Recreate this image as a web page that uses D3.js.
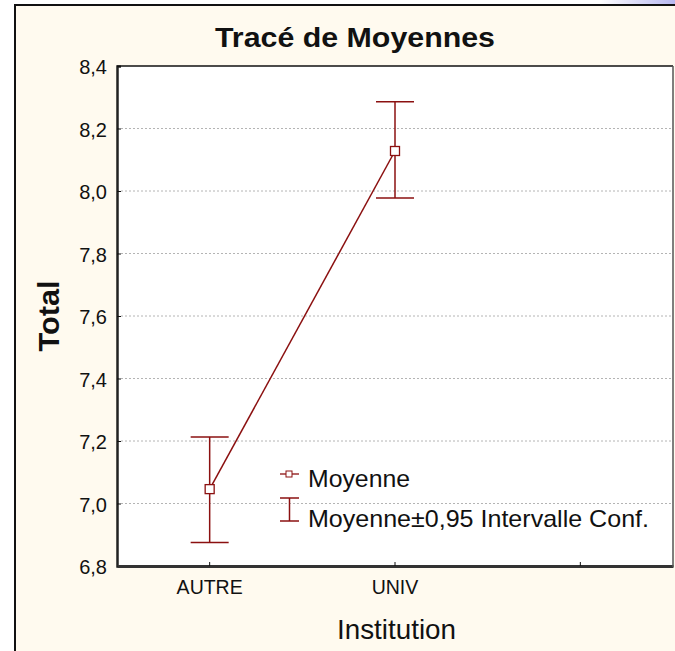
<!DOCTYPE html>
<html>
<head>
<meta charset="utf-8">
<script src="https://cdn.jsdelivr.net/npm/d3@7"></script>
<style>
  body { margin: 0; background: #fff; }
  svg { display: block; font-family: "Liberation Sans", Arial, sans-serif; }
</style>
</head>
<body>
<script>
// data
const categories = ["AUTRE", "UNIV", ""]
const means = [7.046, 8.128]
const upper = [7.213, 8.286]
const lower = [6.875, 7.978]
const yTicks = [6.8, 7.0, 7.2, 7.4, 7.6, 7.8, 8.0, 8.2, 8.4]

const W = 675, H = 651
const plot = {left: 117, top: 66, right: 673, bottom: 566}
const red = "#8b1010"

const svg = d3.select("body").append("svg")
    .attr("width", W)
    .attr("height", H)

// window bit at top right
const grad = svg.append("defs").append("linearGradient")
    .attr("id", "win").attr("x1", 0).attr("x2", 1)
grad.append("stop").attr("offset", 0).attr("stop-color", "#ffffff")
grad.append("stop").attr("offset", 1).attr("stop-color", "#b8b8f0")
svg.append("rect").attr("x", 600).attr("y", 0).attr("width", 75).attr("height", 6)
    .attr("fill", "url(#win)")

// outer frame
svg.append("rect")
    .attr("x", 15).attr("y", 5)
    .attr("width", W).attr("height", H)
    .attr("fill", "#fffaef")
    .attr("stroke", "#111").attr("stroke-width", 2)

// plot area
svg.append("rect")
    .attr("x", plot.left).attr("y", plot.top)
    .attr("width", plot.right - plot.left).attr("height", plot.bottom - plot.top)
    .attr("fill", "#fff")

const xScale = d3.scaleBand()
    .domain(categories)
    .range([plot.left, plot.right])
const xc = d => xScale(d) + xScale.bandwidth() / 2

const yScale = d3.scaleLinear()
    .domain([6.8, 8.4])
    .range([plot.bottom, plot.top])

// gridlines
svg.append("g").selectAll("line")
    .data(yTicks.filter(t => t > 6.8 && t < 8.4))
    .enter().append("line")
    .attr("x1", plot.left).attr("x2", plot.right)
    .attr("y1", d => yScale(d)).attr("y2", d => yScale(d))
    .attr("stroke", "#b4b4b4")
    .attr("stroke-dasharray", "2,2")

// frame lines of plot
svg.append("line").attr("x1", plot.left).attr("x2", plot.right)
    .attr("y1", plot.top).attr("y2", plot.top).attr("stroke", "#111").attr("stroke-width", 1.5)

// y axis
const yAxis = svg.append("g")
    .attr("transform", "translate(" + plot.left + ",0)")
    .call(d3.axisRight(yScale).tickValues(yTicks).tickSize(4)
        .tickFormat(d => d3.format(".1f")(d).replace(".", ",")))
yAxis.attr("font-size", null).attr("font-family", null)
yAxis.select(".domain").attr("stroke", "#222").attr("stroke-width", 2.5)
yAxis.selectAll(".tick line").attr("stroke", "#111")
yAxis.selectAll(".tick text")
    .attr("x", -10)
    .attr("text-anchor", "end")
    .attr("dy", "0.38em")
    .style("font-size", "20px")
    .attr("fill", "#111")

// x axis
const xAxis = svg.append("g")
    .attr("transform", "translate(0," + plot.bottom + ")")
    .call(d3.axisTop(xScale).tickSize(4).tickSizeOuter(0))
xAxis.attr("font-size", null).attr("font-family", null)
xAxis.select(".domain").attr("stroke", "#333").attr("stroke-width", 3)
xAxis.selectAll(".tick line").attr("stroke", "#111")
xAxis.selectAll(".tick text")
    .attr("y", 28)
    .attr("dy", 0)
    .style("font-size", "19.5px")
    .attr("fill", "#111")
svg.append("line").attr("x1", plot.right).attr("x2", plot.right)
    .attr("y1", plot.top).attr("y2", plot.bottom + 1).attr("stroke", "#555").attr("stroke-width", 1.5)

// mean line
const pts = categories.slice(0, 2).map((c, i) => ({c: c, m: means[i], hi: upper[i], lo: lower[i]}))
svg.append("path")
    .datum(pts)
    .attr("fill", "none")
    .attr("stroke", red)
    .attr("stroke-width", 1.5)
    .attr("d", d3.line().x(d => xc(d.c)).y(d => yScale(d.m)))

// error bars
const eb = svg.append("g").selectAll("g").data(pts).enter().append("g")
    .attr("stroke", red).attr("stroke-width", 1.5)
eb.append("line")
    .attr("x1", d => xc(d.c)).attr("x2", d => xc(d.c))
    .attr("y1", d => yScale(d.hi)).attr("y2", d => yScale(d.lo))
eb.append("line")
    .attr("x1", d => xc(d.c) - 19).attr("x2", d => xc(d.c) + 19)
    .attr("y1", d => yScale(d.hi)).attr("y2", d => yScale(d.hi))
eb.append("line")
    .attr("x1", d => xc(d.c) - 19).attr("x2", d => xc(d.c) + 19)
    .attr("y1", d => yScale(d.lo)).attr("y2", d => yScale(d.lo))

// markers
svg.append("g").selectAll("rect").data(pts).enter().append("rect")
    .attr("x", d => xc(d.c) - 4.5).attr("y", d => yScale(d.m) - 4.5)
    .attr("width", 9).attr("height", 9)
    .attr("fill", "#fff").attr("stroke", red).attr("stroke-width", 1.3)

// legend
const lg = svg.append("g").attr("transform", "translate(280,0)")
lg.append("line").attr("x1", 0).attr("x2", 19).attr("y1", 474).attr("y2", 474)
    .attr("stroke", red).attr("stroke-width", 1.3)
lg.append("rect").attr("x", 6).attr("y", 471).attr("width", 6).attr("height", 6)
    .attr("fill", "#fff").attr("stroke", red).attr("stroke-width", 1)
lg.append("text").attr("x", 28).attr("y", 487).text("Moyenne")
    .style("font-size", "24px").attr("fill", "#111")
    .attr("textLength", 102).attr("lengthAdjust", "spacingAndGlyphs")
const ic = lg.append("g").attr("stroke", red).attr("stroke-width", 1.5)
ic.append("line").attr("x1", 0).attr("x2", 19).attr("y1", 498).attr("y2", 498)
ic.append("line").attr("x1", 0).attr("x2", 19).attr("y1", 521).attr("y2", 521)
ic.append("line").attr("x1", 9.5).attr("x2", 9.5).attr("y1", 498).attr("y2", 521)
lg.append("text").attr("x", 28).attr("y", 527).text("Moyenne±0,95 Intervalle Conf.")
    .style("font-size", "24px").attr("fill", "#111")
    .attr("textLength", 341).attr("lengthAdjust", "spacingAndGlyphs")

// title and axis labels
svg.append("text")
    .attr("x", 355).attr("y", 47)
    .attr("text-anchor", "middle")
    .style("font-size", "28px").style("font-weight", "bold")
    .attr("fill", "#111")
    .attr("textLength", 280).attr("lengthAdjust", "spacingAndGlyphs")
    .text("Tracé de Moyennes")

svg.append("text")
    .attr("transform", "translate(59,316)rotate(-90)")
    .attr("text-anchor", "middle")
    .style("font-size", "29px").style("font-weight", "bold")
    .attr("fill", "#111")
    .attr("textLength", 71).attr("lengthAdjust", "spacingAndGlyphs")
    .text("Total")

svg.append("text")
    .attr("x", 396.5).attr("y", 639)
    .attr("text-anchor", "middle")
    .style("font-size", "28px")
    .attr("fill", "#111")
    .attr("textLength", 119).attr("lengthAdjust", "spacingAndGlyphs")
    .text("Institution")
</script>
</body>
</html>
